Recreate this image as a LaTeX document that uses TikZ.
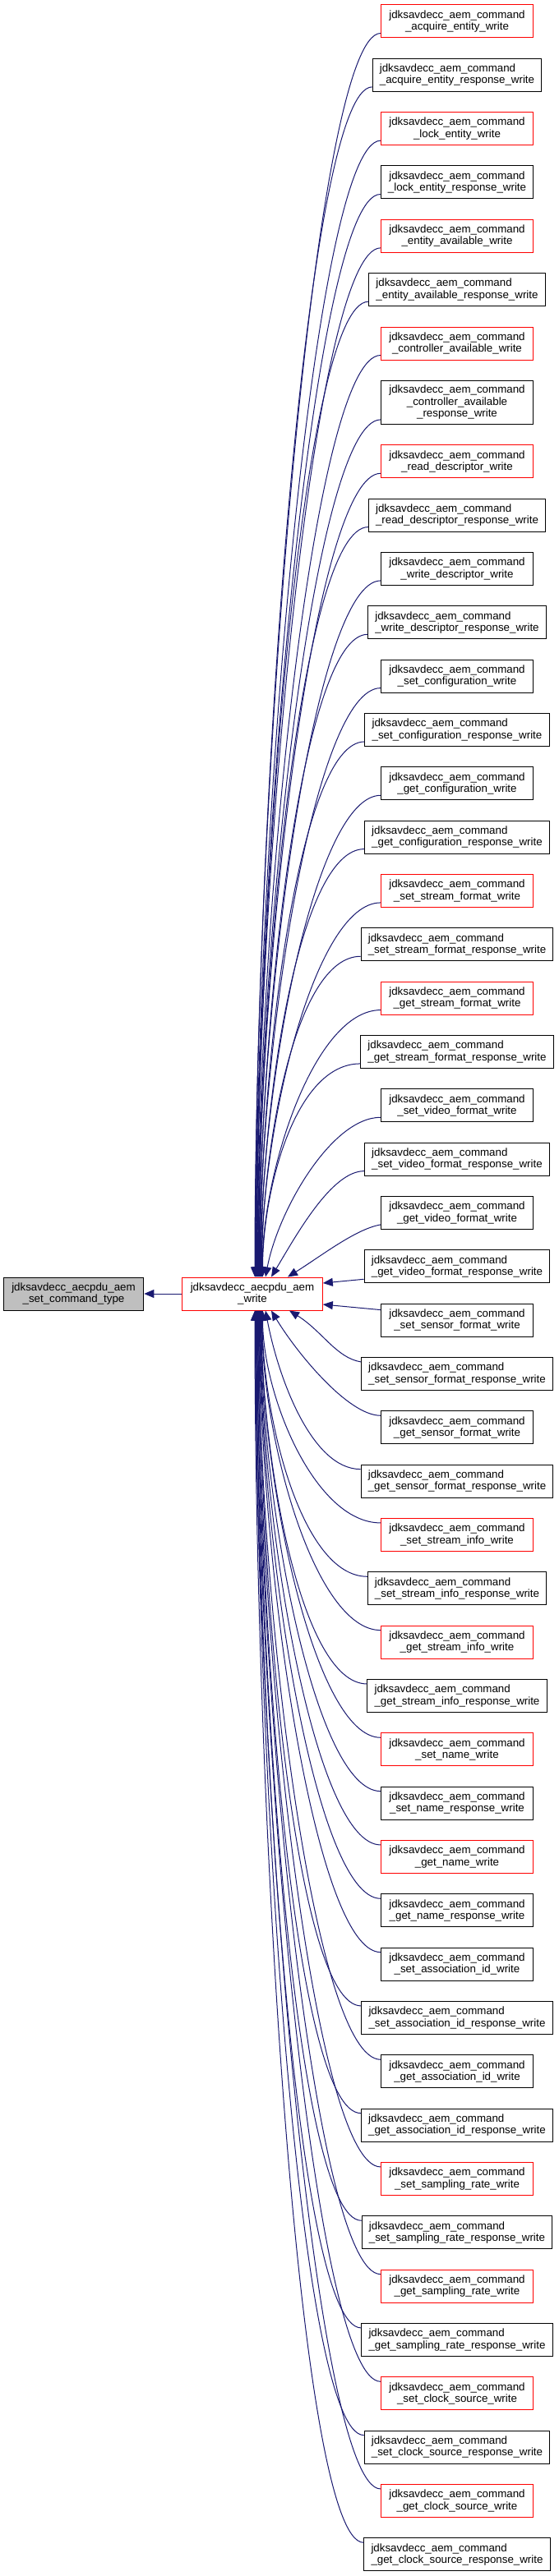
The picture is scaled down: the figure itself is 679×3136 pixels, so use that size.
\documentclass[tikz,border=0pt]{standalone}
\usepackage{fontspec}
\setmainfont{Liberation Sans}
\usetikzlibrary{positioning, arrows.meta, calc}
\definecolor{callblue}{RGB}{25, 25, 112}
\definecolor{focusgray}{RGB}{191, 191, 191}
\tikzset{
  fn/.style={
    draw=black,
    line width=0.75pt,
    fill=white,
    minimum width=138.75pt,
    minimum height=30pt,
    inner xsep=6.5pt,
    inner ysep=4.5pt,
    align=center,
    font=\fontsize{10}{10.75}\selectfont
  },
  fnw/.style={fn, align=left},
  doc/.style={fn, draw=red},
  focus/.style={fn, fill=focusgray, minimum width=128pt},
  call/.style={
    -{Triangle[length=9pt, width=7.5pt]},
    line width=0.75pt,
    draw=callblue
  }
}

\begin{document}
\begin{tikzpicture}[x=0.75pt, y=0.75pt]
  \useasboundingbox (0, 0) rectangle (679, -3136);

  \node[focus] (settype) at (89.5, -1575) {jdksavdecc\_aecpdu\_aem\\\_set\_command\_type};
  \node[doc, minimum width=128pt] (aemwrite) at (307, -1575) {jdksavdecc\_aecpdu\_aem\\\_write};
  \draw[call] (aemwrite) -- (settype);

  % callers of jdksavdecc_aecpdu_aem_write
  \node[doc] (c1) at (556, -26) {jdksavdecc\_aem\_command\\\_acquire\_entity\_write};
  \foreach \txt/\kind [count=\i from 2] in {
      jdksavdecc\_aem\_command\\\_acquire\_entity\_response\_write/fnw,
      jdksavdecc\_aem\_command\\\_lock\_entity\_write/doc,
      jdksavdecc\_aem\_command\\\_lock\_entity\_response\_write/fn,
      jdksavdecc\_aem\_command\\\_entity\_available\_write/doc,
      jdksavdecc\_aem\_command\\\_entity\_available\_response\_write/fnw,
      jdksavdecc\_aem\_command\\\_controller\_available\_write/doc,
      jdksavdecc\_aem\_command\\\_controller\_available\\\_response\_write/fn,
      jdksavdecc\_aem\_command\\\_read\_descriptor\_write/doc,
      jdksavdecc\_aem\_command\\\_read\_descriptor\_response\_write/fnw,
      jdksavdecc\_aem\_command\\\_write\_descriptor\_write/fn,
      jdksavdecc\_aem\_command\\\_write\_descriptor\_response\_write/fnw,
      jdksavdecc\_aem\_command\\\_set\_configuration\_write/fn,
      jdksavdecc\_aem\_command\\\_set\_configuration\_response\_write/fnw,
      jdksavdecc\_aem\_command\\\_get\_configuration\_write/fn,
      jdksavdecc\_aem\_command\\\_get\_configuration\_response\_write/fnw,
      jdksavdecc\_aem\_command\\\_set\_stream\_format\_write/doc,
      jdksavdecc\_aem\_command\\\_set\_stream\_format\_response\_write/fnw,
      jdksavdecc\_aem\_command\\\_get\_stream\_format\_write/doc,
      jdksavdecc\_aem\_command\\\_get\_stream\_format\_response\_write/fnw,
      jdksavdecc\_aem\_command\\\_set\_video\_format\_write/fn,
      jdksavdecc\_aem\_command\\\_set\_video\_format\_response\_write/fnw,
      jdksavdecc\_aem\_command\\\_get\_video\_format\_write/fn,
      jdksavdecc\_aem\_command\\\_get\_video\_format\_response\_write/fnw,
      jdksavdecc\_aem\_command\\\_set\_sensor\_format\_write/fn,
      jdksavdecc\_aem\_command\\\_set\_sensor\_format\_response\_write/fnw,
      jdksavdecc\_aem\_command\\\_get\_sensor\_format\_write/fn,
      jdksavdecc\_aem\_command\\\_get\_sensor\_format\_response\_write/fnw,
      jdksavdecc\_aem\_command\\\_set\_stream\_info\_write/doc,
      jdksavdecc\_aem\_command\\\_set\_stream\_info\_response\_write/fnw,
      jdksavdecc\_aem\_command\\\_get\_stream\_info\_write/doc,
      jdksavdecc\_aem\_command\\\_get\_stream\_info\_response\_write/fnw,
      jdksavdecc\_aem\_command\\\_set\_name\_write/doc,
      jdksavdecc\_aem\_command\\\_set\_name\_response\_write/fn,
      jdksavdecc\_aem\_command\\\_get\_name\_write/doc,
      jdksavdecc\_aem\_command\\\_get\_name\_response\_write/fn,
      jdksavdecc\_aem\_command\\\_set\_association\_id\_write/fn,
      jdksavdecc\_aem\_command\\\_set\_association\_id\_response\_write/fnw,
      jdksavdecc\_aem\_command\\\_get\_association\_id\_write/fn,
      jdksavdecc\_aem\_command\\\_get\_association\_id\_response\_write/fnw,
      jdksavdecc\_aem\_command\\\_set\_sampling\_rate\_write/doc,
      jdksavdecc\_aem\_command\\\_set\_sampling\_rate\_response\_write/fnw,
      jdksavdecc\_aem\_command\\\_get\_sampling\_rate\_write/doc,
      jdksavdecc\_aem\_command\\\_get\_sampling\_rate\_response\_write/fnw,
      jdksavdecc\_aem\_command\\\_set\_clock\_source\_write/doc,
      jdksavdecc\_aem\_command\\\_set\_clock\_source\_response\_write/fnw,
      jdksavdecc\_aem\_command\\\_get\_clock\_source\_write/doc,
      jdksavdecc\_aem\_command\\\_get\_clock\_source\_response\_write/fnw}{
    \pgfmathtruncatemacro{\j}{\i-1}
    \node[\kind, below=18.25pt of c\j] (c\i) {\txt};
  }

  % calls coming in from above
  \foreach \i in {1,...,20}{
    \coordinate (s) at ($(c\i.south west)+(0, 6)$);
    \coordinate (e) at ($(aemwrite.north)+(2.5+0.5*\i, 0)$);
    \draw[call] (s) .. controls +(-80, 0) and ($(e)!0.4!(e |- s)$) .. (e);
  }
  \draw[call] ($(c21.south west)+(0, 6)$) .. controls +(-60, 0) and +(15, 80) .. ($(aemwrite.north)+(16, 0)$);
  \draw[call] ($(c22.south west)+(0, 6)$) .. controls +(-40, 0) and +(30, 50) .. ($(aemwrite.north)+(23, 0)$);
  \draw[call] ($(c23.south west)+(0, 6)$) .. controls +(-30, -5) and +(40, 25) .. ($(aemwrite.north)+(43, 0)$);
  % calls coming in from the side
  \draw[call] ($(c24.south west)+(0, 5)$) -- ($(aemwrite.east)+(0, 13)$);
  \draw[call] ($(c25.north west)+(0, -8)$) -- ($(aemwrite.east)+(0, -13)$);
  % calls coming in from below
  \draw[call] ($(c26.north west)+(0, -6)$) .. controls +(-30, 5) and +(40, -25) .. ($(aemwrite.south)+(45, 0)$);
  \draw[call] ($(c27.north west)+(0, -6)$) .. controls +(-40, 0) and +(30, -50) .. ($(aemwrite.south)+(23, 0)$);
  \draw[call] ($(c28.north west)+(0, -6)$) .. controls +(-60, 0) and +(15, -80) .. ($(aemwrite.south)+(16, 0)$);
  \foreach \i in {29,...,48}{
    \coordinate (s) at ($(c\i.north west)+(0, -6)$);
    \coordinate (e) at ($(aemwrite.south)+(27-0.5*\i, 0)$);
    \draw[call] (s) .. controls +(-80, 0) and ($(e)!0.4!(e |- s)$) .. (e);
  }
\end{tikzpicture}
\end{document}
